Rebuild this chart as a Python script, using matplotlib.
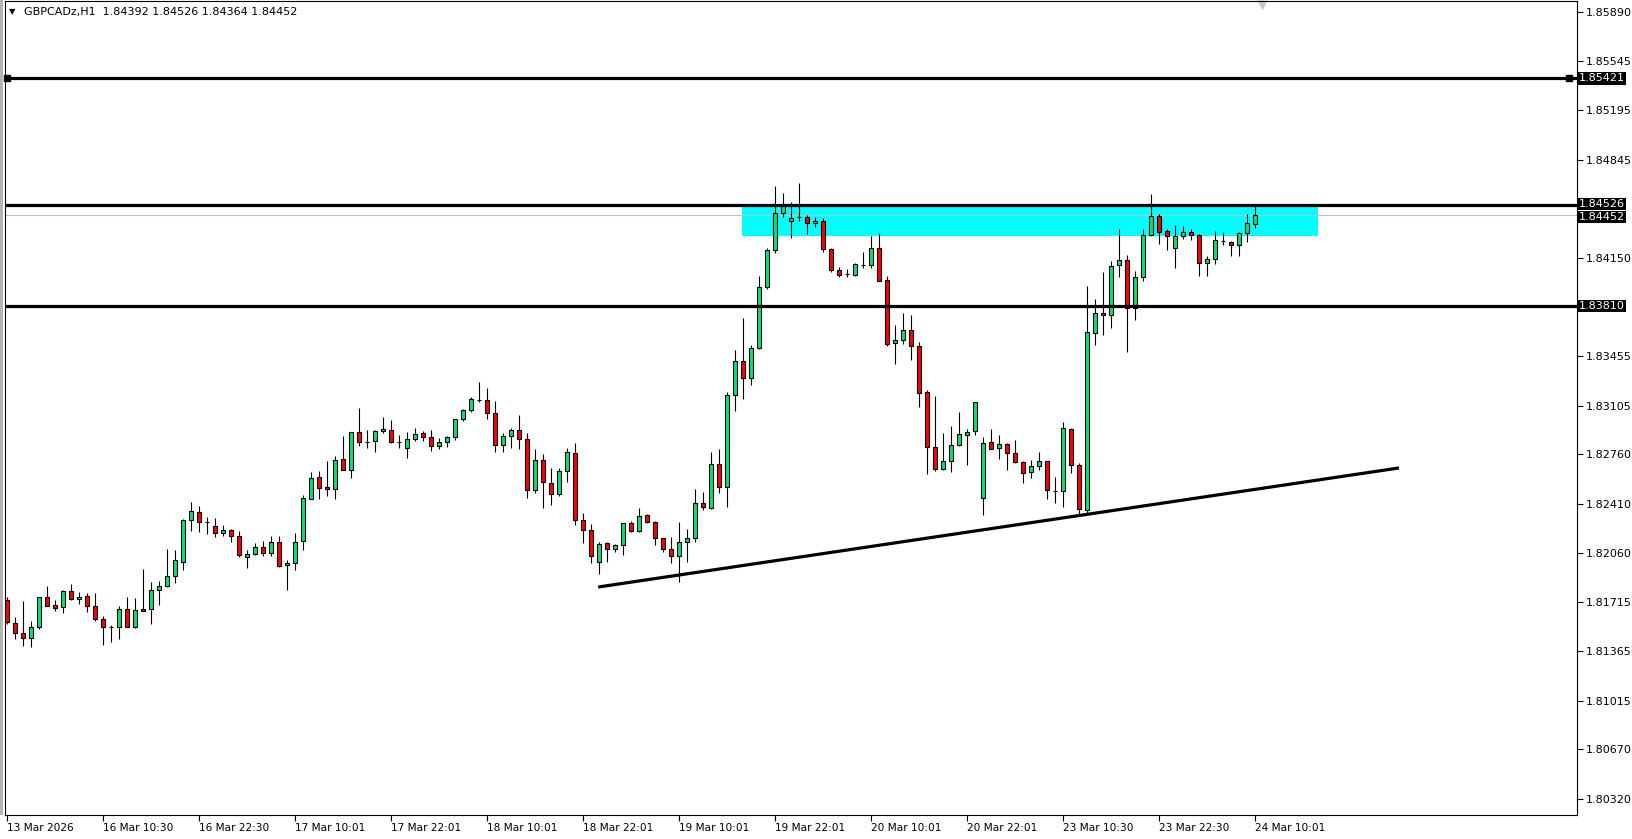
import matplotlib
matplotlib.use("Agg")
import matplotlib.pyplot as plt
import matplotlib.transforms as mtransforms
from matplotlib.patches import Rectangle
import numpy as np

# GBPCADz H1 candles
opens = [1.81728, 1.81565, 1.81494, 1.81459, 1.81537, 1.81749, 1.81693, 1.81678, 1.81792, 1.81735,
         1.81756, 1.81686, 1.81593, 1.81537, 1.81537, 1.81664, 1.81537, 1.81664, 1.81664, 1.81799,
         1.81827, 1.81898, 1.81997, 1.82294, 1.82351, 1.82280, 1.82252, 1.82202, 1.82224, 1.82181,
         1.82032, 1.82054, 1.82103, 1.82061, 1.82139, 1.81976, 1.81990, 1.82146, 1.82443, 1.82599,
         1.82528, 1.82514, 1.82726, 1.82648, 1.82917, 1.82847, 1.82854, 1.82925, 1.82932, 1.82847,
         1.82804, 1.82868, 1.82910, 1.82882, 1.82818, 1.82847, 1.82882, 1.83009, 1.83073, 1.83144,
         1.83144, 1.83052, 1.82825, 1.82889, 1.82932, 1.82868, 1.82507, 1.82719, 1.82556, 1.82478,
         1.82641, 1.82769, 1.82294, 1.82224, 1.81997, 1.82132, 1.82089, 1.82117, 1.82273, 1.82217,
         1.82330, 1.82280, 1.82167, 1.82089, 1.82040, 1.82139, 1.82167, 1.82415, 1.82379, 1.82691,
         1.82528, 1.83179, 1.83420, 1.83300, 1.83512, 1.83944, 1.84206, 1.84468, 1.84411, 1.84440,
         1.84440, 1.84397, 1.84411, 1.84213, 1.84064, 1.84036, 1.84029, 1.84100, 1.84100, 1.84220,
         1.83994, 1.83547, 1.83569, 1.83640, 1.83526, 1.83201, 1.82811, 1.82655, 1.82712, 1.82825,
         1.82896, 1.82925, 1.82450, 1.82847, 1.82804, 1.82832, 1.82769, 1.82705, 1.82634, 1.82677,
         1.82712, 1.82500, 1.82500, 1.82939, 1.82684, 1.82365, 1.83618, 1.83760, 1.83746, 1.84100,
         1.84135, 1.83795, 1.84015, 1.84312, 1.84447, 1.84340, 1.84220, 1.84305, 1.84333, 1.84312,
         1.84114, 1.84143, 1.84269, 1.84262, 1.84241, 1.84326, 1.84392]
highs = [1.81749, 1.81608, 1.81721, 1.81579, 1.81749, 1.81827, 1.81728, 1.81799, 1.81841, 1.81785,
         1.81778, 1.81778, 1.81615, 1.81551, 1.81686, 1.81749, 1.81742, 1.81947, 1.81855, 1.81863,
         1.82089, 1.82082, 1.82301, 1.82422, 1.82394, 1.82316, 1.82309, 1.82259, 1.82230, 1.82217,
         1.82082, 1.82132, 1.82146, 1.82181, 1.82181, 1.82011, 1.82202, 1.82471, 1.82634, 1.82641,
         1.82712, 1.82748, 1.82889, 1.82917, 1.83087, 1.82932, 1.82932, 1.83024, 1.83002, 1.82896,
         1.82917, 1.82946, 1.82925, 1.82932, 1.82875, 1.82889, 1.83009, 1.83080, 1.83165, 1.83271,
         1.83229, 1.83137, 1.82910, 1.82946, 1.83038, 1.82910, 1.82797, 1.82762, 1.82663, 1.82663,
         1.82804, 1.82840, 1.82344, 1.82266, 1.82139, 1.82139, 1.82124, 1.82273, 1.82287, 1.82379,
         1.82337, 1.82285, 1.82170, 1.82174, 1.82280, 1.82231, 1.82514, 1.82493, 1.82776, 1.82797,
         1.83201, 1.83498, 1.83725, 1.83533, 1.84022, 1.84220, 1.84659, 1.84610, 1.84546, 1.84680,
         1.84454, 1.84440, 1.84433, 1.84220, 1.84086, 1.84071, 1.84114, 1.84192, 1.84305, 1.84326,
         1.84022, 1.83675, 1.83760, 1.83746, 1.83554, 1.83215, 1.83172, 1.82910, 1.82960, 1.83059,
         1.82939, 1.83130, 1.82882, 1.82939, 1.82896, 1.82840, 1.82861, 1.82712, 1.82719, 1.82776,
         1.82715, 1.82599, 1.82988, 1.82946, 1.82698, 1.83951, 1.83859, 1.84050, 1.84128, 1.84355,
         1.84171, 1.84057, 1.84355, 1.84603, 1.84461, 1.84355, 1.84383, 1.84376, 1.84355, 1.84319,
         1.84164, 1.84340, 1.84333, 1.84269, 1.84333, 1.84461, 1.84526]
lows = [1.81558, 1.81452, 1.81402, 1.81395, 1.81523, 1.81686, 1.81650, 1.81636, 1.81728, 1.81700,
        1.81643, 1.81579, 1.81409, 1.81431, 1.81452, 1.81537, 1.81530, 1.81650, 1.81558, 1.81693,
        1.81820, 1.81848, 1.81940, 1.82217, 1.82209, 1.82195, 1.82174, 1.82181, 1.82139, 1.82032,
        1.81955, 1.82050, 1.82040, 1.82040, 1.81962, 1.81799, 1.81940, 1.82082, 1.82440, 1.82443,
        1.82464, 1.82443, 1.82648, 1.82592, 1.82818, 1.82804, 1.82776, 1.82910, 1.82840, 1.82804,
        1.82733, 1.82854, 1.82854, 1.82783, 1.82797, 1.82811, 1.82861, 1.82995, 1.83059, 1.83130,
        1.83009, 1.82776, 1.82776, 1.82804, 1.82797, 1.82450, 1.82486, 1.82379, 1.82401, 1.82464,
        1.82563, 1.82259, 1.82132, 1.81990, 1.81912, 1.81997, 1.82068, 1.82047, 1.82209, 1.82209,
        1.82273, 1.82117, 1.82068, 1.81990, 1.81855, 1.81997, 1.82139, 1.82365, 1.82372, 1.82486,
        1.82386, 1.83066, 1.83151, 1.83250, 1.83505, 1.83930, 1.84185, 1.84440, 1.84291, 1.84411,
        1.84319, 1.84369, 1.84192, 1.84050, 1.84015, 1.84015, 1.84025, 1.84079, 1.84079, 1.83987,
        1.83526, 1.83399, 1.83540, 1.83427, 1.83094, 1.82620, 1.82641, 1.82648, 1.82634, 1.82818,
        1.82684, 1.82896, 1.82330, 1.82797, 1.82726, 1.82648, 1.82698, 1.82556, 1.82592, 1.82648,
        1.82443, 1.82415, 1.82386, 1.82627, 1.82337, 1.82344, 1.83533, 1.83604, 1.83654, 1.84015,
        1.83484, 1.83710, 1.83987, 1.84305, 1.84248, 1.84206, 1.84079, 1.84283, 1.84276, 1.84022,
        1.84022, 1.84107, 1.84241, 1.84164, 1.84164, 1.84262, 1.84364]
closes = [1.81572, 1.81494, 1.81459, 1.81537, 1.81749, 1.81686, 1.81671, 1.81792, 1.81735, 1.81749,
          1.81686, 1.81593, 1.81537, 1.81540, 1.81664, 1.81537, 1.81657, 1.81650, 1.81799, 1.81827,
          1.81898, 1.82011, 1.82294, 1.82358, 1.82280, 1.82283, 1.82202, 1.82224, 1.82181, 1.82047,
          1.82054, 1.82103, 1.82061, 1.82139, 1.81969, 1.81990, 1.82139, 1.82450, 1.82592, 1.82521,
          1.82514, 1.82719, 1.82648, 1.82917, 1.82847, 1.82850, 1.82925, 1.82939, 1.82847, 1.82844,
          1.82868, 1.82903, 1.82882, 1.82818, 1.82847, 1.82882, 1.83009, 1.83073, 1.83151, 1.83147,
          1.83052, 1.82825, 1.82889, 1.82932, 1.82868, 1.82507, 1.82719, 1.82563, 1.82478, 1.82641,
          1.82776, 1.82294, 1.82224, 1.82040, 1.82124, 1.82089, 1.82117, 1.82273, 1.82217, 1.82323,
          1.82280, 1.82167, 1.82089, 1.82040, 1.82139, 1.82167, 1.82415, 1.82386, 1.82691, 1.82528,
          1.83179, 1.83420, 1.83300, 1.83512, 1.83944, 1.84206, 1.84468, 1.84525, 1.84433, 1.84443,
          1.84397, 1.84411, 1.84213, 1.84064, 1.84029, 1.84039, 1.84107, 1.84103, 1.84220, 1.83987,
          1.83540, 1.83569, 1.83640, 1.83526, 1.83194, 1.82811, 1.82655, 1.82712, 1.82825, 1.82903,
          1.82917, 1.83130, 1.82840, 1.82797, 1.82832, 1.82769, 1.82705, 1.82627, 1.82677, 1.82712,
          1.82507, 1.82503, 1.82946, 1.82684, 1.82372, 1.83625, 1.83760, 1.83746, 1.84093, 1.84135,
          1.83795, 1.84015, 1.84312, 1.84447, 1.84333, 1.84305, 1.84305, 1.84333, 1.84312, 1.84114,
          1.84143, 1.84276, 1.84271, 1.84241, 1.84326, 1.84397, 1.84452]

time_labels = ["13 Mar 2026", "16 Mar 10:30", "16 Mar 22:30", "17 Mar 10:01", "17 Mar 22:01",
               "18 Mar 10:01", "18 Mar 22:01", "19 Mar 10:01", "19 Mar 22:01", "20 Mar 10:01",
               "20 Mar 22:01", "23 Mar 10:30", "23 Mar 22:30", "24 Mar 10:01"]
price_ticks = [1.85890, 1.85545, 1.85195, 1.84845, 1.84150, 1.83455, 1.83105, 1.82760,
               1.82410, 1.82060, 1.81715, 1.81365, 1.81015, 1.80670, 1.80320]
levels = [1.85421, 1.84526, 1.83810]
bid = 1.84452
zone = (1.84305, 1.84526)          # cyan supply zone
trend_x = [73.9, 174.0]            # bar index of trendline ends
trend_y = [1.81820, 1.82663]

W, H = 1632, 839
FS_Y = 8.0
FS_X = 7.6
plt.rcParams['font.family'] = ['DejaVu Sans']

fig = plt.figure(figsize=(W / 100, H / 100), dpi=100)
fig.patch.set_facecolor('white')
fig.patches.append(Rectangle((0, 1 - 815 / H), 3 / W, 815 / H, transform=fig.transFigure,
                             facecolor='#b4b4b4', edgecolor='none'))
ax = fig.add_axes([5 / W, 1 - 815 / H, (1577 - 5) / W, (815 - 1) / H])

o = np.array(opens); h = np.array(highs); l = np.array(lows); c = np.array(closes)
x = np.arange(len(o))
up = c >= o

ax.add_patch(Rectangle((91.9, zone[0]), 72.0, zone[1] - zone[0], facecolor='#00ffff',
                       edgecolor='none', zorder=1))
ax.axhline(bid, color='#c0c0c0', lw=0.8, zorder=2)

ax.vlines(x, l, h, color='black', lw=0.8, zorder=3)
ax.bar(x, np.abs(c - o), bottom=np.minimum(o, c), width=0.6,
       color=np.where(up, '#00e676', '#ff0000'), edgecolor='black', linewidth=0.8, zorder=4)

for lv in levels:
    ax.axhline(lv, color='black', lw=2.3, zorder=5)
ax.plot([0, 195.3], [levels[0], levels[0]], 's', ms=4, color='black', zorder=6, clip_on=False)
ax.plot(trend_x, trend_y, color='black', lw=2.3, zorder=5, solid_capstyle='butt')

ax.set_xlim(-0.25, 196.25)
ax.set_ylim(1.80206, 1.85969)
for s in ax.spines.values():
    s.set_linewidth(0.8)

ax.yaxis.tick_right()
ax.set_yticks(price_ticks)
ax.set_yticklabels([f"{p:.5f}" for p in price_ticks])
ax.set_xticks(np.arange(0, len(o), 12))
ax.set_xticklabels(time_labels)
for t in ax.get_xticklabels():
    t.set_ha('left')
ax.tick_params(axis='both', direction='out', length=4, width=0.8, pad=2)
ax.tick_params(axis='y', labelsize=FS_Y)
ax.tick_params(axis='x', labelsize=FS_X)

# price labels of the horizontal lines (bid label sits just under the 1.84526 one)
tr = mtransforms.blended_transform_factory(ax.transAxes, ax.transData)
for val, dy in [(bid, -2), (levels[1], 1), (levels[2], 0), (levels[0], 0)]:
    off = mtransforms.offset_copy(tr, fig=fig, x=0, y=dy, units='dots')
    ax.text(1.0013, val, f"{val:.5f}", transform=off, color='white', fontsize=FS_Y,
            va='center', ha='left', clip_on=False,
            bbox=dict(boxstyle='square,pad=0.1', fc='black', ec='none'))

# chart shift marker
ax.plot([156.9], [0.995], marker='v', ms=7, color='#c8c8c8', mec='none',
        transform=mtransforms.blended_transform_factory(ax.transData, ax.transAxes), clip_on=False)

fig.text(9 / W, 1 - 12 / H, "\u25bc", fontsize=6, va='center', ha='left')
fig.text(24 / W, 1 - 12 / H, "GBPCADz,H1  1.84392 1.84526 1.84364 1.84452", fontsize=8.0,
         va='center', ha='left')

fig.savefig("out.png", dpi=100)
